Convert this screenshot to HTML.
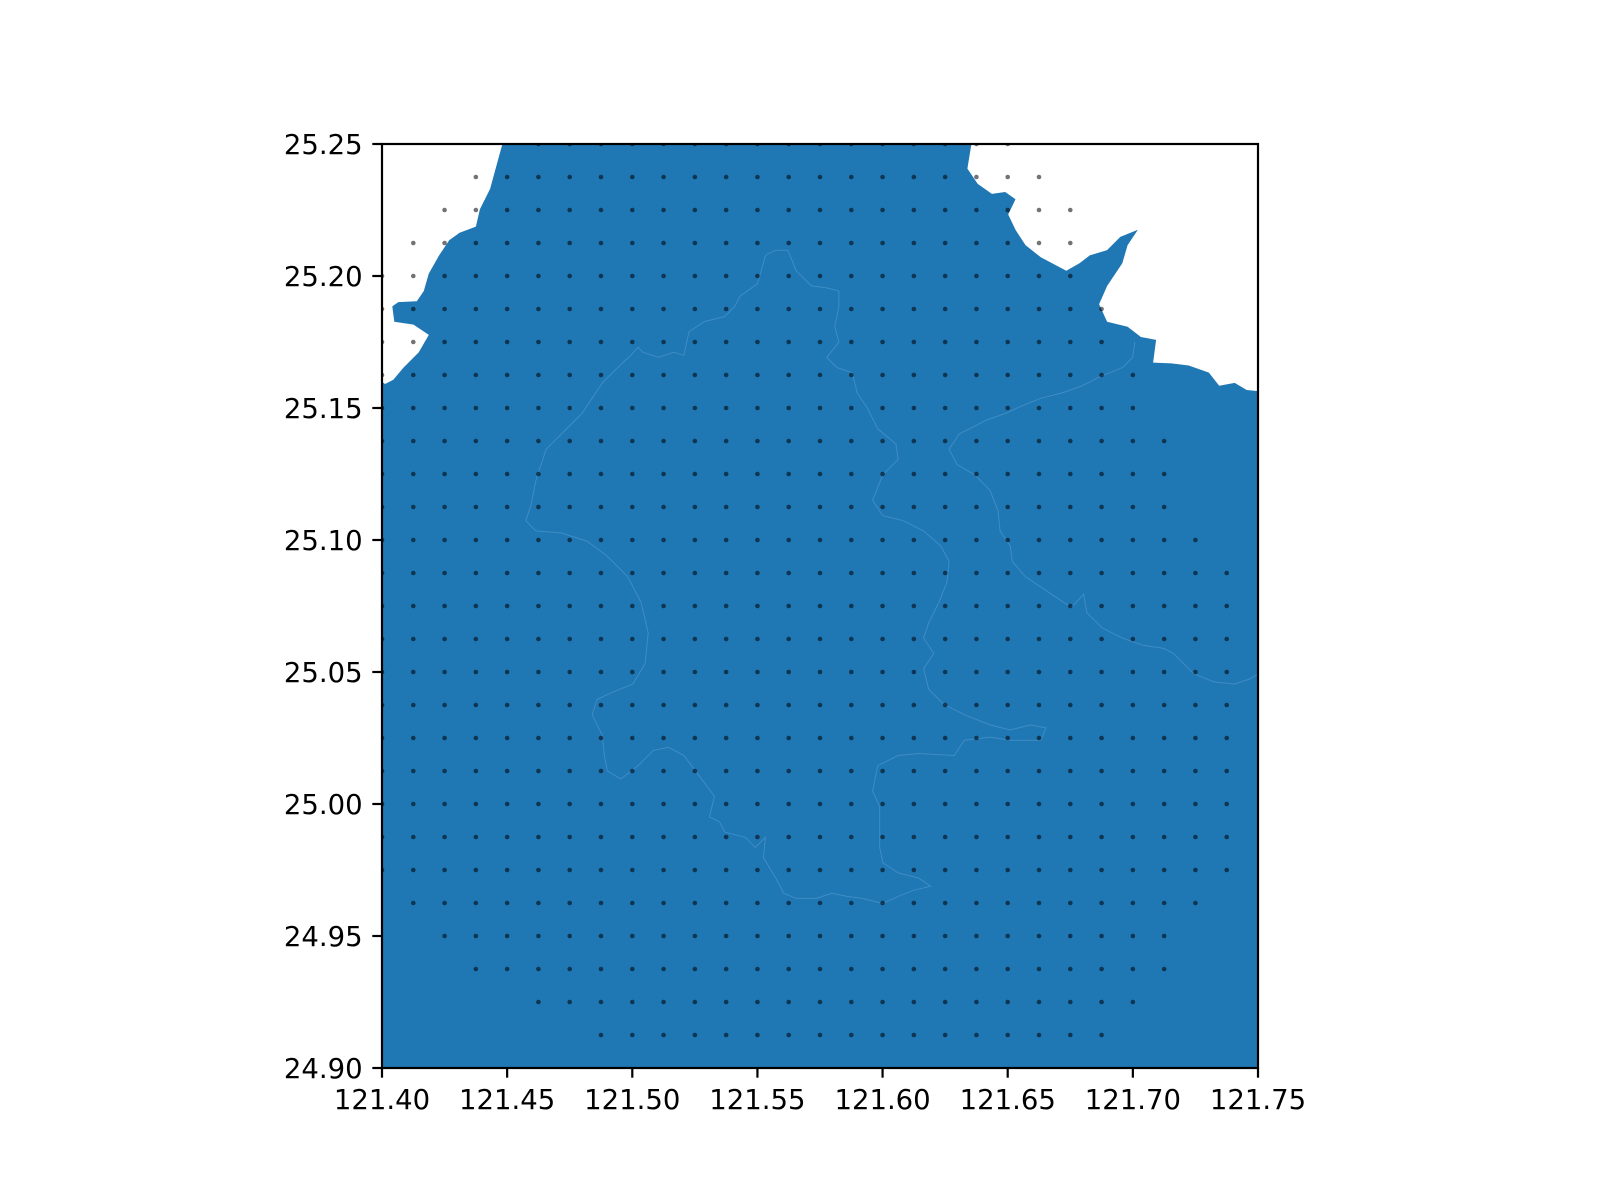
<!DOCTYPE html>
<html>
<head>
<meta charset="utf-8">
<style>
  html, body { margin: 0; padding: 0; background: #ffffff; }
  svg { display: block; }
  text { font-family: "DejaVu Sans", "Liberation Sans", sans-serif; fill: #000; }
</style>
</head>
<body>
<svg id="chart" width="1600" height="1200" viewBox="0 0 1600 1200" xmlns="http://www.w3.org/2000/svg">
  <rect x="0" y="0" width="1600" height="1200" fill="#ffffff"/>
  <defs>
    <clipPath id="axclip"><rect x="382" y="144" width="876" height="924"/></clipPath>
  </defs>
  <g id="plot" clip-path="url(#axclip)"></g>
  <g id="axes"></g>
</svg>
<script>
// ---- axis domain ----
const lonMin = 121.40, lonMax = 121.75;
const latMin = 24.90, latMax = 25.25;
const xTicks = [121.40, 121.45, 121.50, 121.55, 121.60, 121.65, 121.70, 121.75];
const yTicks = [24.90, 24.95, 25.00, 25.05, 25.10, 25.15, 25.20, 25.25];
const xTickLabels = ["121.40","121.45","121.50","121.55","121.60","121.65","121.70","121.75"];
const yTickLabels = ["24.90","24.95","25.00","25.05","25.10","25.15","25.20","25.25"];

// ---- coastline (lon/lat) ----
const coastWestLon = [121.4481,121.4460,121.4432,121.4391,121.4375,121.4310,121.4269,121.4228,121.4187,121.4167,121.4139,121.4065,121.4041,121.4049,121.4126,121.4187,121.4147,121.4086,121.4045,121.4012,121.4000];
const coastWestLat = [25.2500,25.2427,25.2330,25.2253,25.2187,25.2164,25.2136,25.2078,25.2009,25.1943,25.1904,25.1901,25.1885,25.1827,25.1816,25.1777,25.1711,25.1653,25.1607,25.1591,25.1599];
const coastEastLon = [121.6355,121.6339,121.6380,121.6437,121.6490,121.6531,121.6502,121.6531,121.6571,121.6632,121.6734,121.6787,121.6828,121.6897,121.6950,121.7020,121.6979,121.6958,121.6897,121.6865,121.6897,121.6979,121.7032,121.7093,121.7081,121.7154,121.7223,121.7304,121.7345,121.7407,121.7455,121.7500];
const coastEastLat = [25.2500,25.2407,25.2349,25.2311,25.2318,25.2291,25.2233,25.2175,25.2117,25.2071,25.2020,25.2048,25.2078,25.2098,25.2148,25.2175,25.2117,25.2048,25.1962,25.1893,25.1827,25.1808,25.1769,25.1758,25.1672,25.1669,25.1661,25.1634,25.1584,25.1595,25.1568,25.1564];

// ---- district boundaries traced on a lon/lat grid (trace units: lon = 121.4 + tx*0.0004075, lat = 25.25 - ty*0.0003867) ----
const boundaryWestTrace = [[251,199],[256,204],[271,209],[286,204],[296,207],[301,184],[316,174],[336,169],[346,159],[351,149],[368,137],[371,127],[376,109],[386,104],[398,104],[406,124],[421,139],[436,141],[448,144],[448,159],[444,179],[448,194],[436,209],[446,219],[461,224],[466,244],[476,259],[486,279],[504,294],[506,309],[491,324],[481,349],[491,364],[511,369],[531,379],[548,394],[556,409],[554,429],[546,449],[536,469],[531,484],[541,499],[531,514],[536,534],[551,549],[571,559],[596,569],[616,574],[636,569],[651,572],[646,584],[616,584],[596,581],[571,584],[561,599],[526,597],[506,599],[486,609],[481,634],[488,649],[488,689],[491,704],[506,714],[526,719],[538,727],[521,731],[506,737],[491,744],[471,739],[456,737],[441,734],[426,739],[406,739],[394,734],[386,719],[374,699],[376,679],[366,689],[356,679],[336,674],[331,664],[321,659],[326,639],[311,619],[296,599],[281,591],[266,594],[251,609],[234,622],[221,614],[218,599],[216,579],[206,559],[211,544],[226,537],[246,529],[258,509],[261,479],[254,449],[241,424],[221,404],[201,389],[176,381],[151,379],[141,369],[146,354],[151,329],[161,299],[176,284],[196,264],[206,249],[216,234],[231,219],[244,207],[251,199]];
const boundaryEastTrace = [[738,194],[736,209],[726,219],[706,227],[686,237],[666,244],[646,249],[626,257],[611,264],[591,271],[586,274],[566,284],[556,299],[564,314],[581,324],[596,339],[604,359],[606,379],[616,394],[618,409],[631,424],[646,434],[661,444],[676,454],[688,441],[691,459],[706,474],[726,484],[746,491],[766,494],[776,499],[786,509],[796,519],[816,527],[836,529],[851,524],[859,519]];

// ---- sample point grid (rows of lat, column index range of lon) ----
const gridStep = 0.0125;
const rowStartCol = [5,3,2,1,0,0,0,0,0,0,0,0,0,0,0,0,0,0,0,0,0,0,0,1,2,3,5,7];
const rowEndCol   = [20,21,22,22,22,23,23,24,24,25,25,25,26,27,27,27,27,27,27,27,27,27,27,26,25,25,24,23];

// ---- scales ----
const AX = {left: 382, top: 144, width: 876, height: 924};
function xScale(lon) { return AX.left + (lon - lonMin) / (lonMax - lonMin) * AX.width; }
function yScale(lat) { return AX.top + (latMax - lat) / (latMax - latMin) * AX.height; }
function traceToLon(tx) { return 121.4 + tx * 0.0004075; }
function traceToLat(ty) { return 25.25 - ty * 0.0003867; }

const NS = "http://www.w3.org/2000/svg";
const plot = document.getElementById('plot');
const axes = document.getElementById('axes');

// land polygon
let pts = [];
for (let k = 0; k < coastWestLon.length; k++) pts.push([coastWestLon[k], coastWestLat[k]]);
pts.push([lonMin, latMin]);
pts.push([lonMax, latMin]);
for (let k = coastEastLon.length - 1; k >= 0; k--) pts.push([coastEastLon[k], coastEastLat[k]]);
let d = pts.map((p, k) => (k ? 'L' : 'M') + xScale(p[0]).toFixed(1) + ',' + yScale(p[1]).toFixed(1)).join(' ') + ' Z';
const land = document.createElementNS(NS, 'path');
land.setAttribute('d', d);
land.setAttribute('fill', '#1f77b4');


plot.appendChild(land);

// boundaries
function drawBoundary(tr, name) {
  const p = document.createElementNS(NS, 'path');
  p.setAttribute('d', tr.map((q, k) => (k ? 'L' : 'M') + xScale(traceToLon(q[0])).toFixed(1) + ',' + yScale(traceToLat(q[1])).toFixed(1)).join(' '));
  p.setAttribute('fill', 'none');
  p.setAttribute('stroke', '#5a9fd2');
  p.setAttribute('stroke-opacity', '0.55');
  p.setAttribute('stroke-width', '1');
  
  
  plot.appendChild(p);
}
drawBoundary(boundaryWestTrace, 'district-boundary-west');
drawBoundary(boundaryEastTrace, 'district-boundary-east');

// grid points
for (let i = 0; i < rowStartCol.length; i++) {
  const lat = latMax - i * gridStep;
  for (let j = rowStartCol[i]; j <= rowEndCol[i]; j++) {
    const lon = lonMin + j * gridStep;
    const c = document.createElementNS(NS, 'circle');
    c.setAttribute('cx', xScale(lon).toFixed(2));
    c.setAttribute('cy', yScale(lat).toFixed(2));
    c.setAttribute('r', '2.3');
    c.setAttribute('fill', 'rgba(0,0,0,0.55)');
    
    
    plot.appendChild(c);
  }
}

// frame
const frame = document.createElementNS(NS, 'rect');
frame.setAttribute('x', AX.left); frame.setAttribute('y', AX.top);
frame.setAttribute('width', AX.width); frame.setAttribute('height', AX.height);
frame.setAttribute('fill', 'none'); frame.setAttribute('stroke', '#000'); frame.setAttribute('stroke-width', '2.2');


axes.appendChild(frame);

// x ticks
xTicks.forEach((v, k) => {
  const x = xScale(v);
  const t = document.createElementNS(NS, 'line');
  t.setAttribute('x1', x); t.setAttribute('x2', x);
  t.setAttribute('y1', AX.top + AX.height); t.setAttribute('y2', AX.top + AX.height + 9.7);
  t.setAttribute('stroke', '#000'); t.setAttribute('stroke-width', '2.2');
  
  
  axes.appendChild(t);
  const l = document.createElementNS(NS, 'text');
  l.setAttribute('x', x); l.setAttribute('y', AX.top + AX.height + 41);
  l.setAttribute('text-anchor', 'middle'); l.setAttribute('font-size', '27.5');
  l.textContent = xTickLabels[k];
  
  
  axes.appendChild(l);
});
// y ticks
yTicks.forEach((v, k) => {
  const y = yScale(v);
  const t = document.createElementNS(NS, 'line');
  t.setAttribute('x1', AX.left - 9.7); t.setAttribute('x2', AX.left);
  t.setAttribute('y1', y); t.setAttribute('y2', y);
  t.setAttribute('stroke', '#000'); t.setAttribute('stroke-width', '2.2');
  
  
  axes.appendChild(t);
  const l = document.createElementNS(NS, 'text');
  l.setAttribute('x', AX.left - 19.4); l.setAttribute('y', y + 10);
  l.setAttribute('text-anchor', 'end'); l.setAttribute('font-size', '27.5');
  l.textContent = yTickLabels[k];
  
  
  axes.appendChild(l);
});
</script>
</body>
</html>
